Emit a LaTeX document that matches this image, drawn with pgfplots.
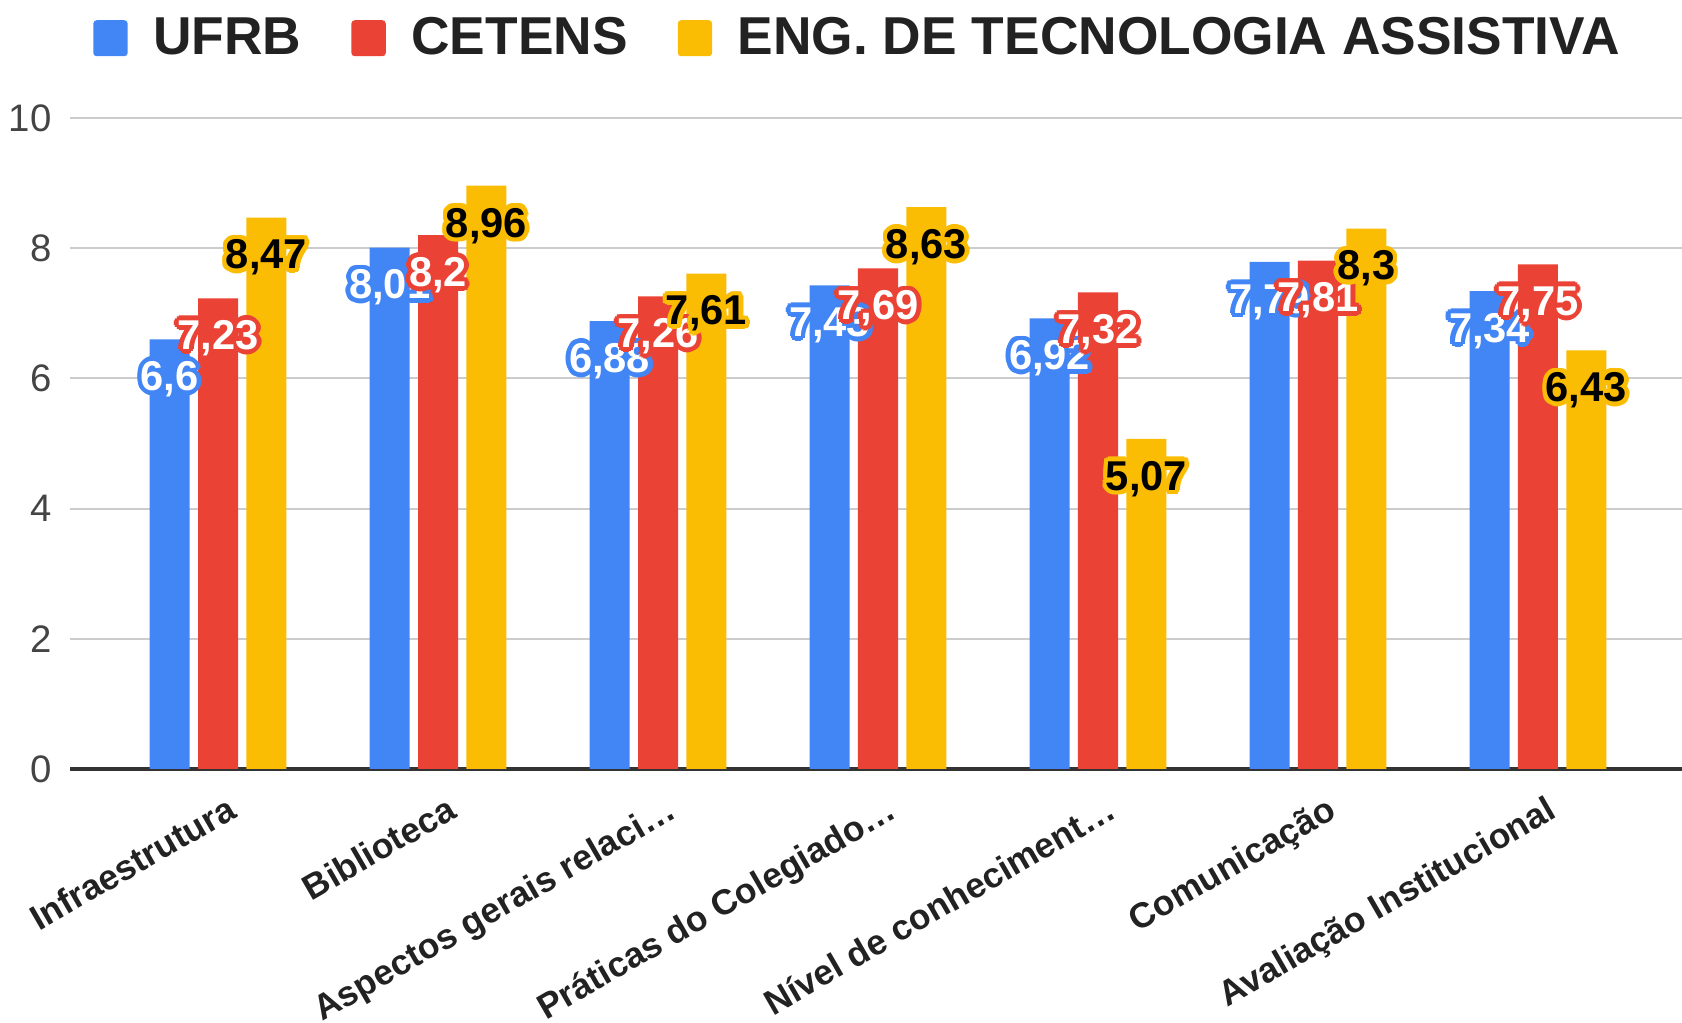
\documentclass[border=0pt]{standalone}
\usepackage{fontspec}
\setmainfont{Liberation Sans}
\usepackage{pgfplots}
\pgfplotsset{compat=1.18}
\definecolor{cblue}{HTML}{4285F4}
\definecolor{cred}{HTML}{EA4335}
\definecolor{cyellow}{HTML}{FBBC04}
\definecolor{gridc}{HTML}{CCCCCC}
\definecolor{basec}{HTML}{333333}
\definecolor{tickc}{HTML}{444444}
\definecolor{labc}{HTML}{222222}
\newcommand\hp[3]{\rlap{\kern#1pt\raise#2pt\hbox{#3}}}
\newcommand\halo[3]{{\color{#1}\hp{1.4}{0}{#3}\hp{1.21}{0.7}{#3}\hp{0.7}{1.21}{#3}\hp{0}{1.4}{#3}\hp{-0.7}{1.21}{#3}\hp{-1.21}{0.7}{#3}\hp{-1.4}{0}{#3}\hp{-1.21}{-0.7}{#3}\hp{-0.7}{-1.21}{#3}\hp{0}{-1.4}{#3}\hp{0.7}{-1.21}{#3}\hp{1.21}{-0.7}{#3}}{\color{#2}#3}}
\begin{document}
\begin{tikzpicture}
\path[use as bounding box] (0,0) rectangle (504.6pt,306.9pt);
\begin{axis}[
  at={(21pt,76.2pt)}, anchor=south west,
  scale only axis, width=483.6pt, height=195.3pt,
  xmin=-0.673, xmax=6.655, ymin=0, ymax=10,
  ybar, bar width=0.182,
  xtick=data,
  xticklabels={Infraestrutura, Biblioteca, Aspectos gerais relaci…, Práticas do Colegiado…, Nível de conheciment…, Comunicação, Avaliação Institucional},
  ytick={0,2,4,6,8,10},
  axis line style={draw=none},
  major tick length=0pt,
  ymajorgrids, grid style={gridc, line width=0.6pt},
  extra y ticks={0}, extra y tick labels={},
  extra y tick style={grid style={basec, line width=1pt}},
  yticklabel style={font=\fontsize{11.5}{12}\selectfont, text=tickc, xshift=-2pt},
  xticklabel style={font=\bfseries\fontsize{10.6}{12}\selectfont, text=labc, xshift=3.5pt, yshift=-2.8pt, rotate=30, anchor=north east},
  every node near coord/.append style={anchor=center, yshift=-12pt, font=\bfseries\fontsize{12.5}{12.5}\selectfont, inner sep=0pt},
  legend style={at={(0.49,1.122)}, anchor=center, legend columns=3, draw=none, fill=none,
    font=\bfseries\fontsize{16}{16}\selectfont, text=labc,
    /tikz/every even column/.append style={column sep=13pt}},
  /pgf/number format/assume math mode=true,
  /pgf/number format/use comma,
  /pgf/number format/precision=2,
]
\addplot[fill=cblue, draw=none, bar shift=-0.22,
  legend image code/.code={\fill[cblue, rounded corners=1pt] (0pt,-5.3pt) rectangle (10.3pt,5.5pt); \path (16pt,0pt);},
  nodes near coords={\halo{cblue}{white}{\pgfmathprintnumber{\pgfplotspointmeta}}}]
  coordinates {(0,6.6) (1,8.01) (2,6.88) (3,7.43) (4,6.92) (5,7.79) (6,7.34)};
\addlegendentry{UFRB}
\addplot[fill=cred, draw=none, bar shift=0,
  legend image code/.code={\fill[cred, rounded corners=1pt] (0pt,-5.3pt) rectangle (10.3pt,5.5pt); \path (16pt,0pt);},
  nodes near coords={\halo{cred}{white}{\pgfmathprintnumber{\pgfplotspointmeta}}}]
  coordinates {(0,7.23) (1,8.2) (2,7.26) (3,7.69) (4,7.32) (5,7.81) (6,7.75)};
\addlegendentry{CETENS}
\addplot[fill=cyellow, draw=none, bar shift=0.22,
  legend image code/.code={\fill[cyellow, rounded corners=1pt] (0pt,-5.3pt) rectangle (10.3pt,5.5pt); \path (16pt,0pt);},
  nodes near coords={\halo{cyellow}{black}{\pgfmathprintnumber{\pgfplotspointmeta}}}]
  coordinates {(0,8.47) (1,8.96) (2,7.61) (3,8.63) (4,5.07) (5,8.3) (6,6.43)};
\addlegendentry{ENG. DE TECNOLOGIA ASSISTIVA}
\end{axis}
\end{tikzpicture}
\end{document}
